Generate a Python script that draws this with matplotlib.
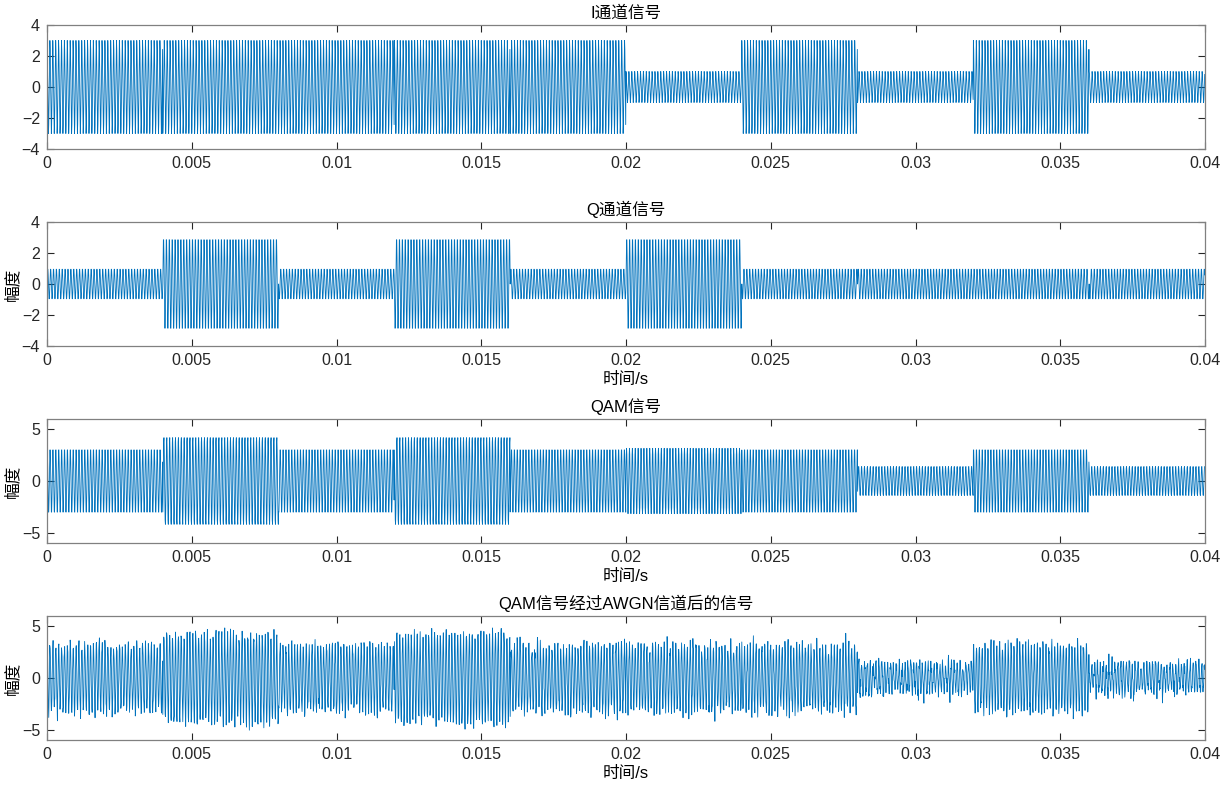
import numpy as np
import matplotlib.pyplot as plt

plt.rcParams['font.family'] = ['Liberation Sans', 'Noto Sans CJK SC', 'DejaVu Sans']

# symbol values (amplitude of each 4 ms symbol)
i_symbols = [3, -3, -3, 3, -3, 1, 3, -1, 3, 1]
q_symbols = [1, 3, -1, -3, 1, 3, -1, 1, 1, -1]
symbol_time = 0.004      # s
carrier_freq = 10e3      # Hz
sample_rate = 100e3      # Hz
snr_db = 15

titles = ['I通道信号', 'Q通道信号', 'QAM信号', 'QAM信号经过AWGN信道后的信号']
x_ticks = [0, 0.005, 0.01, 0.015, 0.02, 0.025, 0.03, 0.035, 0.04]
x_tick_labels = ['0', '0.005', '0.01', '0.015', '0.02', '0.025', '0.03', '0.035', '0.04']

# build signals
n_per_sym = int(symbol_time * sample_rate)
t = np.arange(len(i_symbols) * n_per_sym) / sample_rate
i_base = np.repeat(i_symbols, n_per_sym).astype(float)
q_base = np.repeat(q_symbols, n_per_sym).astype(float)
i_sig = i_base * np.cos(2 * np.pi * carrier_freq * t)
q_sig = q_base * np.sin(2 * np.pi * carrier_freq * t)
qam = i_sig + q_sig

rng = np.random.default_rng(3)
p_sig = np.mean(qam ** 2)
noise_std = np.sqrt(p_sig / 10 ** (snr_db / 10))
noisy = qam + rng.normal(0, noise_std, qam.shape)

signals = [i_sig, q_sig, qam, noisy]
ylims = [(-4, 4), (-4, 4), (-6, 6), (-6, 6)]
yticks = [[-4, -2, 0, 2, 4], [-4, -2, 0, 2, 4], [-5, 0, 5], [-5, 0, 5]]

W, H = 1224, 788
fig = plt.figure(figsize=(W / 100, H / 100), dpi=100)
tops = [25, 222, 419, 616]
ax_h = 124
left, right = 47, 1205
color_axis = '#262626'

for k in range(4):
    ax = fig.add_axes([left / W, 1 - (tops[k] + ax_h) / H, (right - left) / W, ax_h / H])
    ax.plot(t, signals[k], color='#0072BD', linewidth=0.6)
    ax.set_xlim(0, 0.04)
    ax.set_ylim(*ylims[k])
    ax.set_xticks(x_ticks)
    ax.set_xticklabels(x_tick_labels)
    ax.set_yticks(yticks[k])
    ax.tick_params(direction='in', length=5, width=0.8, colors=color_axis,
                   labelsize=11.5, top=True, right=True, pad=5)
    for s in ax.spines.values():
        s.set_color('#808080')
        s.set_linewidth(0.9)
    ax.set_title(titles[k], fontsize=12, color='#000000', pad=5)
    if k > 0:
        ax.set_xlabel('时间/s', fontsize=12, labelpad=3)
        ax.set_ylabel('幅度', fontsize=12, labelpad=1)

fig.savefig('out.png', dpi=100)
